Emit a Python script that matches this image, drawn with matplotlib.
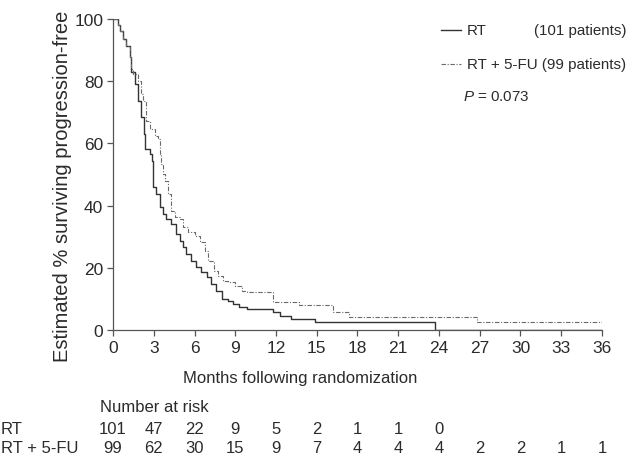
import numpy as np
import matplotlib
matplotlib.use("Agg")
from matplotlib import pyplot as plt

plt.rcParams['font.family'] = ['Liberation Sans', 'DejaVu Sans']
plt.rcParams['mathtext.fontset'] = 'custom'
plt.rcParams['mathtext.it'] = 'Liberation Sans:italic'
plt.rcParams['mathtext.rm'] = 'Liberation Sans'

# KM curves (months, % progression-free), step after each time
rt_t = [0, 0.37, 0.5, 0.74, 0.98, 1.23, 1.35, 1.6, 1.84, 2.09, 2.29, 2.38, 2.7, 2.87,
        2.95, 3.2, 3.44, 3.69, 3.93, 4.3, 4.67, 4.9, 5.16, 5.4, 5.77, 6.14, 6.5, 6.9,
        7.25, 7.6, 8.0, 8.5, 8.85, 9.3, 9.9, 11.8, 12.3, 13.1, 14.9, 23.7, 36]
rt_s = [100, 98, 96.2, 93.6, 91.4, 87.7, 82.9, 79.1, 73.7, 68.4, 63, 58.2, 56.6, 54.4,
        45.9, 43.7, 39.4, 37.3, 35.7, 34.1, 30.9, 28.7, 26.6, 24.4, 22.3, 20.2, 18.5, 16.9,
        14.8, 12.6, 10, 9.4, 8.4, 7.5, 6.7, 5.9, 4.6, 3.4, 2.5, 0, 0]

fu_t = [0, 0.37, 0.5, 0.74, 0.98, 1.23, 1.35, 1.47, 1.84, 2.09, 2.2, 2.46, 2.7, 3.07,
        3.32, 3.44, 3.56, 3.69, 3.8, 4.05, 4.3, 4.55, 4.9, 5.16, 5.5, 6.0, 6.4, 6.75,
        7.0, 7.4, 7.75, 8.1, 8.5, 9.0, 9.5, 9.9, 11.8, 13.7, 16.2, 17.4, 26.8, 36]
fu_s = [100, 98, 96.2, 93.6, 91.4, 87.7, 84, 82.3, 80.2, 75.9, 73.7, 67.3, 64.6, 62.5,
        61.4, 56.6, 53.4, 50.2, 48, 43.7, 38.4, 36.2, 35.7, 33, 31.4, 30.3, 28.2, 25.5,
        22.3, 19.1, 17.5, 15.9, 15.3, 14.3, 12.6, 12.1, 9.1, 8.0, 5.7, 4.3, 2.7, 2.7]

# number at risk table
risk_months = [0, 3, 6, 9, 12, 15, 18, 21, 24, 27, 30, 33, 36]
risk_rt = [101, 47, 22, 9, 5, 2, 1, 1, 0]
risk_fu = [99, 62, 30, 15, 9, 7, 4, 4, 4, 2, 2, 1, 1]

txt = '#2b2b2b'
W, H = 628, 460
fig = plt.figure(figsize=(6.28, 4.6), dpi=100)
ax = fig.add_axes([113 / W, 1 - 331 / H, 489 / W, 311 / H])

ax.step(rt_t, rt_s, where='post', color='#333333', lw=1.0)
ax.step(fu_t, fu_s, where='post', color='#6a6a6a', lw=0.8,
        linestyle=(0, (4, 1.5, 1, 1.5)))

ax.set_xlim(0, 36)
ax.set_ylim(0, 100)
ax.set_xticks(risk_months)
ax.set_yticks([0, 20, 40, 60, 80, 100])
for s in ['top', 'right']:
    ax.spines[s].set_visible(False)
for s in ['left', 'bottom']:
    ax.spines[s].set_color('#555555')
    ax.spines[s].set_linewidth(0.9)
ax.tick_params(direction='out', length=4, width=0.9, color='#555555',
               labelsize=12.5, labelcolor=txt, pad=3)

# axis labels (x label sits left of the axes centre in the original)
fig.text(300 / W, 1 - 379 / H, 'Months following randomization',
         ha='center', va='center', fontsize=12, color=txt)
fig.text(63 / W, 1 - 186 / H, 'Estimated % surviving progression-free',
         ha='center', va='center', rotation=90, fontsize=14.5, color=txt)

# legend, drawn by hand like the original
lfs = 10.9
fig.add_artist(plt.Line2D([441 / W, 461 / W], [1 - 31 / H] * 2,
                          color='#333333', lw=1.0))
fig.add_artist(plt.Line2D([441 / W, 461 / W], [1 - 65 / H] * 2,
                          color='#6a6a6a', lw=0.8, linestyle=(0, (4, 1.5, 1, 1.5))))
fig.text(467 / W, 1 - 31 / H, 'RT', ha='left', va='center', fontsize=lfs, color=txt)
fig.text(626 / W, 1 - 31 / H, '(101 patients)', ha='right', va='center',
         fontsize=lfs, color=txt)
fig.text(626 / W, 1 - 65 / H, 'RT + 5-FU (99 patients)', ha='right', va='center',
         fontsize=lfs, color=txt)
fig.text(463 / W, 1 - 97 / H, r'$P$ = 0.073', ha='left', va='center',
         fontsize=lfs, color=txt)

# number at risk
fs = 12
fig.text(100 / W, 1 - 408 / H, 'Number at risk', ha='left', va='center',
         fontsize=fs, color=txt)
fig.text(1 / W, 1 - 430 / H, 'RT', ha='left', va='center', fontsize=fs, color=txt)
fig.text(1 / W, 1 - 449 / H, 'RT + 5-FU', ha='left', va='center', fontsize=fs,
         color=txt)
for m, n in zip(risk_months, risk_rt):
    x = ax.transData.transform((m, 0))[0]
    fig.text(x / fig.bbox.width, 1 - 430 / H, str(n), ha='center', va='center',
             fontsize=fs, color=txt)
for m, n in zip(risk_months, risk_fu):
    x = ax.transData.transform((m, 0))[0]
    fig.text(x / fig.bbox.width, 1 - 449 / H, str(n), ha='center', va='center',
             fontsize=fs, color=txt)

fig.savefig('out.png', dpi=100)
